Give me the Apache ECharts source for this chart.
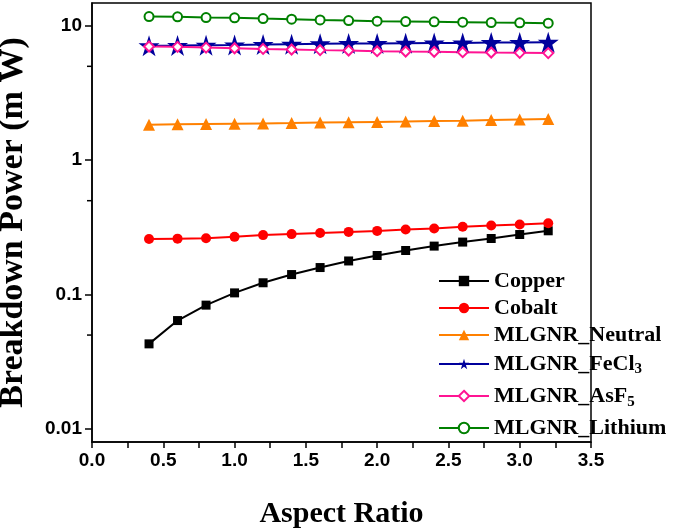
<!DOCTYPE html>
<html><head><meta charset="utf-8">
<script src="https://cdn.jsdelivr.net/npm/echarts@6/dist/echarts.min.js"></script>
<style>html,body{margin:0;padding:0;background:#fff}#c{width:685px;height:531px}</style>
</head><body><div id="c"></div>
<script>
const aspectRatio = [0.4,0.6,0.8,1.0,1.2,1.4,1.6,1.8,2.0,2.2,2.4,2.6,2.8,3.0,3.2];
const copper  = [0.043,0.0641,0.0835,0.103,0.1225,0.141,0.159,0.178,0.1955,0.213,0.2296,0.246,0.2615,0.280,0.2985];
const cobalt  = [0.259,0.261,0.263,0.269,0.2773,0.2821,0.287,0.293,0.298,0.305,0.3105,0.3195,0.3268,0.332,0.340];
const neutral = [1.84,1.85,1.86,1.87,1.88,1.89,1.91,1.92,1.93,1.94,1.96,1.97,1.99,2.01,2.03];
const fecl3   = [7.10,7.14,7.19,7.22,7.26,7.31,7.35,7.39,7.39,7.44,7.47,7.47,7.51,7.51,7.56];
const asf5    = [7.02,6.98,6.89,6.82,6.74,6.67,6.60,6.55,6.48,6.44,6.41,6.37,6.33,6.30,6.27];
const lithium = [11.73,11.67,11.53,11.47,11.33,11.22,11.08,10.96,10.84,10.77,10.71,10.66,10.58,10.53,10.47];
const yMinorTicks = [0.05,0.5,5];
const seriesNames = ['Copper','Cobalt','MLGNR_Neutral','MLGNR_FeCl3','MLGNR_AsF5','MLGNR_Lithium'];

const star = 'path://M50,0 L61.2,34.5 L97.6,34.5 L68.2,55.9 L79.4,90.5 L50,69.1 L20.6,90.5 L31.8,55.9 L2.4,34.5 L38.8,34.5 Z';
function pts(arr){ return aspectRatio.map((x,i)=>[x,arr[i]]); }
function mk(name, data, color, symbol, size, hollow){
  return {
    name, type:'line', data: pts(data), symbol, symbolSize: size,
    lineStyle:{color, width:2}, itemStyle:{color: hollow ? '#fff' : color, borderColor: color, borderWidth: hollow ? 2 : 0},
    emphasis:{disabled:true}, z: 3
  };
}
const T = {fontFamily:'Liberation Serif', fontWeight:'bold', fontSize:22, color:'#000'};
const S = {fontFamily:'Liberation Serif', fontWeight:'bold', fontSize:15, color:'#000', verticalAlign:'bottom'};
const chart = echarts.init(document.getElementById('c'), null, {renderer:'canvas'});
const option = {
  animation:false,
  grid:{left:92, right:94, top:3, bottom:89, outerBoundsMode:'none', containLabel:false, show:true, borderColor:'#000', borderWidth:1.5, backgroundColor:'transparent'},
  xAxis:{type:'value', min:0, max:3.5, interval:0.5,
    name:'Aspect Ratio', nameLocation:'middle', nameGap:57,
    nameTextStyle:{fontFamily:'Liberation Serif', fontWeight:'bold', fontSize:30, color:'#000'},
    axisLine:{lineStyle:{color:'#000', width:1.5}},
    axisTick:{inside:false, length:6, lineStyle:{color:'#000', width:1.5}},
    minorTick:{show:true, splitNumber:2, length:6, lineStyle:{color:'#000', width:1.5}},
    splitLine:{show:false},
    axisLabel:{margin:9, fontFamily:'Liberation Sans', fontWeight:'bold', fontSize:19, color:'#000', formatter:v=>v.toFixed(1)}
  },
  yAxis:{type:'log', logBase:10, min:0.008, max:14.8,
    name:'Breakdown Power (m W)', nameLocation:'middle', nameGap:62, nameRotate:90,
    nameTextStyle:{fontFamily:'Liberation Serif', fontWeight:'bold', fontSize:34, color:'#000'},
    axisLine:{lineStyle:{color:'#000', width:1.5}},
    axisTick:{inside:false, length:7, lineStyle:{color:'#000', width:1.5}},
    splitLine:{show:false},
    axisLabel:{margin:10, fontFamily:'Liberation Sans', fontWeight:'bold', fontSize:19, color:'#000', showMinLabel:false, showMaxLabel:false,
      formatter:v=>{ const l=Math.log10(v); if(Math.abs(l-Math.round(l))>1e-6) return ''; return String(+v.toPrecision(3)); }}
  },
  legend:{orient:'vertical', left:433, top:265, itemWidth:50, itemHeight:13, itemGap:5,
    data: seriesNames,
    textStyle:Object.assign({}, T, {lineHeight:22,
      rich:{
        f:Object.assign({}, T, {lineHeight:26}), fs:Object.assign({}, S, {lineHeight:26}),
        a:Object.assign({}, T, {lineHeight:28}), as:Object.assign({}, S, {lineHeight:28}),
        l:Object.assign({}, T, {lineHeight:26})
      }}),
    formatter:n=> n==='MLGNR_FeCl3' ? '{f|MLGNR_FeCl}{fs|3}' : (n==='MLGNR_AsF5' ? '{a|MLGNR_AsF}{as|5}' : (n==='MLGNR_Lithium' ? '{l|MLGNR_Lithium}' : n))
  },
  series:[
    mk('Copper', copper, '#000000', 'rect', 9, false),
    mk('Cobalt', cobalt, '#ff0000', 'circle', 10, false),
    mk('MLGNR_Neutral', neutral, '#ff8000', 'triangle', 12, false),
    mk('MLGNR_FeCl3', fecl3, '#00009c', star, 21, false),
    mk('MLGNR_AsF5', asf5, '#ff1493', 'diamond', 10, true),
    mk('MLGNR_Lithium', lithium, '#008000', 'circle', 9, true)
  ]
};
chart.setOption(option);
const gx = chart.convertToPixel({xAxisIndex:0}, 0);
chart.setOption({graphic: yMinorTicks.map(v=>{
  const py = chart.convertToPixel({yAxisIndex:0}, v);
  return {type:'line', shape:{x1:gx-5, y1:py, x2:gx, y2:py}, style:{stroke:'#000', lineWidth:1.5}};
})});
</script></body></html>
